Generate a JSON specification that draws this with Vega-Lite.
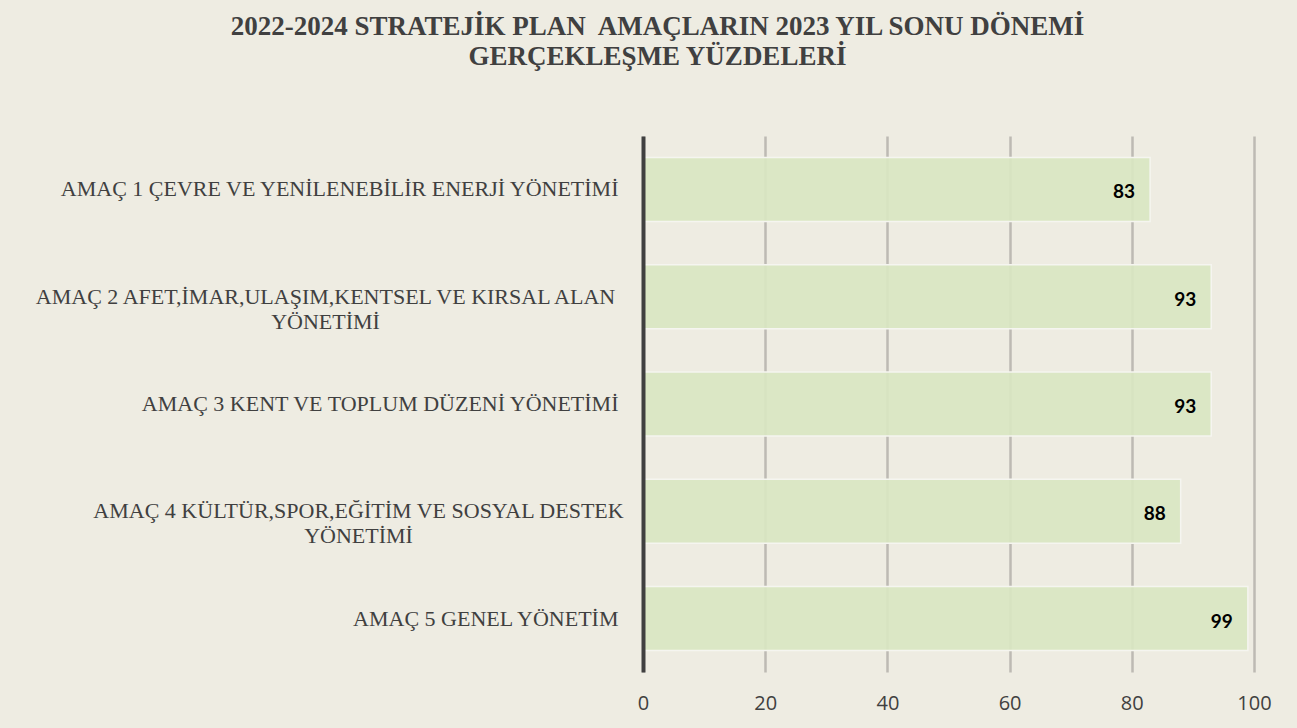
{
  "$schema": "https://vega.github.io/schema/vega-lite/v6.json",
  "autosize": {"type": "none"},
  "width": 611,
  "height": 536,
  "padding": {"left": 643, "top": 136, "right": 43, "bottom": 56},
  "background": "#EEECE2",
  "title": {
    "text": ["2022-2024 STRATEJİK PLAN\u00a0 AMAÇLARIN 2023 YIL SONU DÖNEMİ", "GERÇEKLEŞME YÜZDELERİ"],
    "font": "Liberation Serif",
    "fontSize": 27,
    "fontWeight": "bold",
    "color": "#404040",
    "anchor": "middle",
    "frame": "group",
    "dx": -291,
    "offset": 65,
    "lineHeight": 30
  },
  "data": {
    "values": [
      {"amac": "AMAÇ 1 ÇEVRE VE YENİLENEBİLİR ENERJİ YÖNETİMİ", "yuzde": 83},
      {"amac": "AMAÇ 2 AFET,İMAR,ULAŞIM,KENTSEL VE KIRSAL ALAN|YÖNETİMİ", "yuzde": 93},
      {"amac": "AMAÇ 3 KENT VE TOPLUM DÜZENİ YÖNETİMİ", "yuzde": 93},
      {"amac": "AMAÇ 4 KÜLTÜR,SPOR,EĞİTİM VE SOSYAL DESTEK|YÖNETİMİ", "yuzde": 88},
      {"amac": "AMAÇ 5 GENEL YÖNETİM", "yuzde": 99}
    ]
  },
  "encoding": {
    "y": {
      "field": "amac",
      "type": "nominal",
      "sort": null,
      "scale": {"paddingInner": 0.403, "paddingOuter": 0.2},
      "axis": {
        "title": null,
        "ticks": false,
        "grid": false,
        "zindex": 1,
        "domainColor": "#404040",
        "domainWidth": 4,
        "labelExpr": "split(datum.label, '|')",
        "labelFont": "Liberation Serif",
        "labelFontSize": 22,
        "labelColor": "#404040",
        "labelLimit": 800,
        "labelLineHeight": 25,
        "labelBaseline": "middle",
        "labelAlign": {"condition": {"test": "indexof(datum.value, '|') >= 0", "value": "center"}, "value": "right"},
        "labelPadding": {"condition": [
          {"test": "indexof(datum.value, 'AMAÇ 2') >= 0", "value": 318},
          {"test": "indexof(datum.value, 'AMAÇ 4') >= 0", "value": 285}
        ], "value": 25}
      }
    },
    "x": {
      "field": "yuzde",
      "type": "quantitative",
      "scale": {"domain": [0, 100], "nice": false},
      "axis": {
        "title": null,
        "values": [0, 20, 40, 60, 80, 100],
        "domain": false,
        "ticks": false,
        "grid": true,
        "zindex": 0,
        "gridColor": "#bdbab3",
        "gridWidth": 2.5,
        "labelFlush": false,
        "labelFont": "Open Sans",
        "labelFontSize": 20,
        "labelColor": "#404040",
        "labelPadding": 21
      }
    }
  },
  "layer": [
    {
      "mark": {"type": "bar", "fill": "#D9E6C2", "fillOpacity": 0.92, "stroke": "#F5F5F0", "strokeWidth": 1.5}
    },
    {
      "mark": {"type": "text", "align": "right", "baseline": "middle", "dx": -15, "dy": 3, "font": "Lato", "fontSize": 19, "fontWeight": "bold", "color": "#000000"},
      "encoding": {"text": {"field": "yuzde", "type": "quantitative"}}
    }
  ],
  "config": {"view": {"stroke": null}}
}
